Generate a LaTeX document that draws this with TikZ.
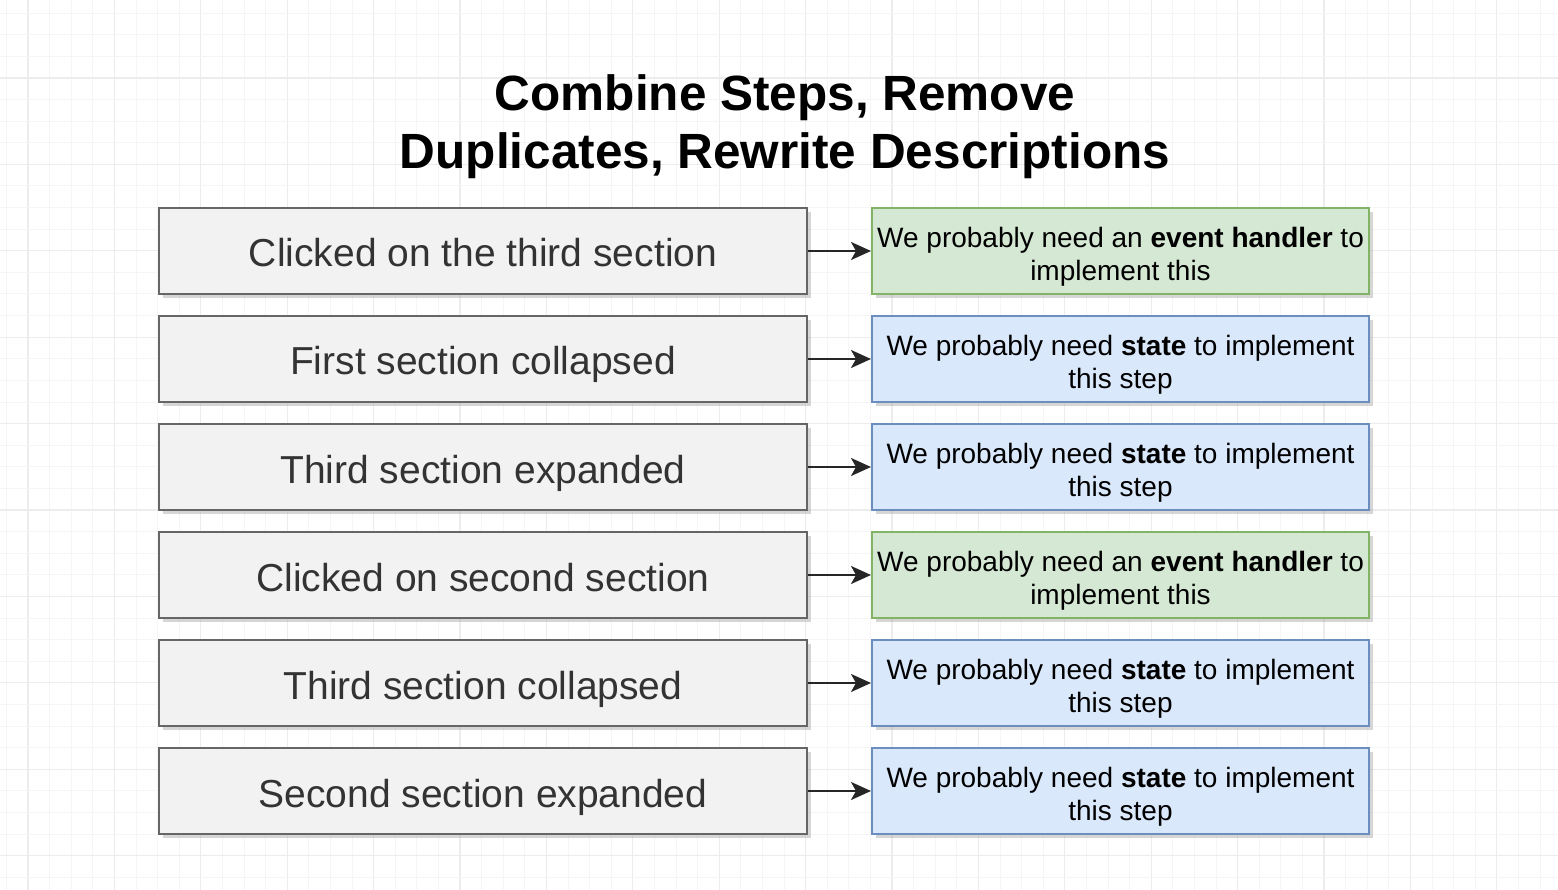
\documentclass[tikz,border=0pt]{standalone}
\usepackage{fontspec}
\setmainfont{Liberation Sans}
\usetikzlibrary{arrows.meta,shadows}
\definecolor{leftfill}{HTML}{F2F2F2}
\definecolor{leftdraw}{HTML}{666666}
\definecolor{lefttext}{HTML}{333333}
\definecolor{greenfill}{HTML}{D5E8D4}
\definecolor{greendraw}{HTML}{82B366}
\definecolor{bluefill}{HTML}{DAE8FC}
\definecolor{bluedraw}{HTML}{6C8EBF}
\definecolor{gridminor}{HTML}{F5F5F5}
\definecolor{gridmajor}{HTML}{ECECEC}
\tikzset{
  boxshadow/.style={drop shadow={shadow xshift=4pt,shadow yshift=-4pt,opacity=0.45,fill=gray!70}},
  stepbox/.style={rectangle,draw=leftdraw,fill=leftfill,line width=2pt,minimum width=648pt,minimum height=86pt,inner sep=0pt,text height=32pt,text depth=0pt,text=lefttext,font=\fontsize{39pt}{46pt}\selectfont,boxshadow},
  notebox/.style={rectangle,line width=2pt,minimum width=497pt,minimum height=86pt,inner sep=0pt,text height=22pt,text depth=29pt,text=black,font=\fontsize{28pt}{33pt}\selectfont,boxshadow},
  greenbox/.style={notebox,draw=greendraw,fill=greenfill},
  bluebox/.style={notebox,draw=bluedraw,fill=bluefill},
  link/.style={line width=2pt,draw=black!85,-{Stealth[length=20pt,width=18pt,inset=5pt]}},
}
\newcommand{\twolines}[2]{\begin{tabular}[t]{@{}c@{}}#1\\#2\end{tabular}}
\begin{document}
\begin{tikzpicture}[x=1pt,y=-1pt]
\useasboundingbox (0,0) rectangle (1558,890);
\fill[white] (0,0) rectangle (1558,890);
% grid
\foreach \i in {0,...,72}{
  \pgfmathtruncatemacro{\m}{mod(\i,4)}
  \ifnum\m=1
    \draw[gridmajor,line width=1.2pt] ({6.4+21.6*\i},0) -- ({6.4+21.6*\i},890);
  \else
    \draw[gridminor,line width=1pt] ({6.4+21.6*\i},0) -- ({6.4+21.6*\i},890);
  \fi
}
\foreach \j in {0,...,41}{
  \pgfmathtruncatemacro{\m}{mod(\j,4)}
  \ifnum\m=3
    \draw[gridmajor,line width=1.2pt] (0,{13.2+21.6*\j}) -- (1558,{13.2+21.6*\j});
  \else
    \draw[gridminor,line width=1pt] (0,{13.2+21.6*\j}) -- (1558,{13.2+21.6*\j});
  \fi
}
% title
\node[align=center,font=\fontsize{49.5pt}{58pt}\selectfont\bfseries] (title) at (785,127)
  {Combine Steps, Remove\\Duplicates, Rewrite Descriptions};
% left boxes
\node[stepbox] (s1) at (483,251) {Clicked on the third section};
\node[stepbox] (s2) at (483,359) {First section collapsed};
\node[stepbox] (s3) at (483,467) {Third section expanded};
\node[stepbox] (s4) at (483,575) {Clicked on second section};
\node[stepbox] (s5) at (483,683) {Third section collapsed};
\node[stepbox] (s6) at (483,791) {Second section expanded};
% right boxes
\node[greenbox] (n1) at (1120.5,251) {\twolines{We probably need an \textbf{event handler} to}{implement this}};
\node[bluebox] (n2) at (1120.5,359) {\twolines{We probably need \textbf{state} to implement}{this step}};
\node[bluebox] (n3) at (1120.5,467) {\twolines{We probably need \textbf{state} to implement}{this step}};
\node[greenbox] (n4) at (1120.5,575) {\twolines{We probably need an \textbf{event handler} to}{implement this}};
\node[bluebox] (n5) at (1120.5,683) {\twolines{We probably need \textbf{state} to implement}{this step}};
\node[bluebox] (n6) at (1120.5,791) {\twolines{We probably need \textbf{state} to implement}{this step}};
% arrows
\foreach \k in {1,...,6}{
  \draw[link] (s\k.east) -- (n\k.west);
}
\end{tikzpicture}
\end{document}
